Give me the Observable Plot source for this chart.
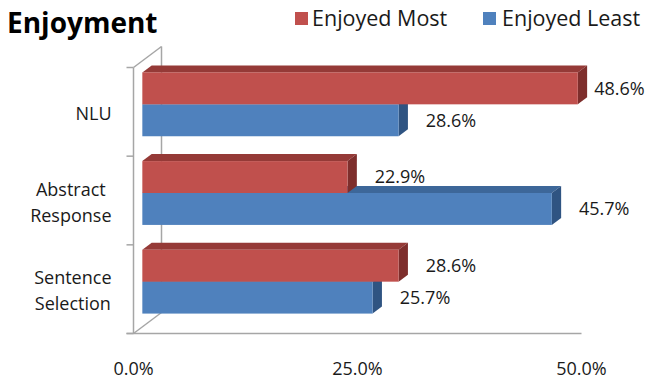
<!DOCTYPE html>
<html>
<head>
<meta charset="utf-8">
<script src="https://cdn.jsdelivr.net/npm/d3@7"></script>
<script src="https://cdn.jsdelivr.net/npm/@observablehq/plot@0.6"></script>
<style>
  html, body { margin: 0; padding: 0; background: #fff; }
  body { font-family: "Open Sans", sans-serif; color: #1a1a1a; }
  #header { position: relative; width: 645px; height: 44px; }
  #title { position: absolute; left: 7px; top: 2px; font-size: 28px; font-weight: bold; color: #000; line-height: 40px; white-space: nowrap; }
  .sw { position: absolute; top: 12px; width: 13px; height: 13px; }
  .lt { position: absolute; top: 3px; font-size: 21.5px; line-height: 30px; color: #1a1a1a; white-space: nowrap; }
</style>
</head>
<body>
<div id="header">
  <div id="title">Enjoyment</div>
</div>
<div id="chart"></div>
<script>
// ---- data ----
const categories = ["NLU", "Abstract Response", "Sentence Selection"];
const categoryLines = [["NLU"], ["Abstract", "Response"], ["Sentence", "Selection"]];
const seriesNames = ["Enjoyed Most", "Enjoyed Least"];
const enjoyedMost = [48.6, 22.9, 28.6];
const enjoyedLeast = [28.6, 45.7, 25.7];
const xTicks = [0, 25, 50];

// ---- styles ----
const seriesColors = {
  "Enjoyed Most":  { front: "#C0504D", top: "#953A37", side: "#7E2E2C" },
  "Enjoyed Least": { front: "#4F81BD", top: "#3D6799", side: "#2F5482" }
};
const axisColor = "#a6a6a6";
const textColor = "#1a1a1a";
const font = "Open Sans";

// ---- legend (HTML, above the SVG) ----
const header = document.getElementById("header");
const legendPos = [{sw: 295, tx: 312}, {sw: 483, tx: 502}];
seriesNames.forEach((s, k) => {
  const sw = document.createElement("div");
  sw.className = "sw"; sw.style.left = legendPos[k].sw + "px"; sw.style.background = seriesColors[s].front;
  const t = document.createElement("div");
  t.className = "lt"; t.style.left = legendPos[k].tx + "px"; t.textContent = s;
  header.appendChild(sw); header.appendChild(t);
});

// ---- geometry ----
const W = 645, H = 335;
const marginLeft = 133, marginRight = 64, marginTop = 23, marginBottom = 46;
const xDomain = [0, 50];
const n = categories.length;
const pxPerX = (W - marginLeft - marginRight) / (xDomain[1] - xDomain[0]);
const pxPerY = (H - marginTop - marginBottom) / n;
const DX = 28 / pxPerX, DY = 21 / pxPerY;   // full wall depth in data units
const fFront = 1 / 3, fBack = 2 / 3;         // bar depth span
const gap = 0.14, barH = 0.36;
const tickLen = 7 / pxPerX;
const labelMax = 47.4;

const bars = [];
categories.forEach((c, i) => {
  // lower series first so upper bar's front face covers its top face
  [[1, enjoyedLeast[i]], [0, enjoyedMost[i]]].forEach(([s, v]) => {
    const y1 = i + gap + s * barH, y2 = y1 + barH;
    bars.push({ category: c, series: seriesNames[s], value: v, y1, y2, id: c + "|" + s });
  });
});

const topPts = bars.flatMap(b => [fFront, fBack].map(f => ({
  id: b.id, series: b.series, y: b.y1 - f * DY, x1: f * DX, x2: b.value + f * DX
})));
const sidePts = bars.flatMap(b => [fFront, fBack].map(f => ({
  id: b.id, series: b.series, x: b.value + f * DX, y1: b.y1 - f * DY, y2: b.y2 - f * DY
})));

const backSegs = [
  { x1: DX, y1: -DY, x2: DX, y2: n - DY },      // back wall edge
  { x1: 0, y1: 0, x2: DX, y2: -DY },            // top diagonal
  { x1: 0, y1: n, x2: DX, y2: n - DY }          // bottom diagonal
];
const frontSegs = [
  { x1: 0, y1: 0, x2: 0, y2: n },               // front vertical axis
  { x1: -tickLen, y1: n, x2: xDomain[1], y2: n }, // floor front edge
  ...d3.range(n + 1).map(k => ({ x1: -tickLen, y1: k, x2: 0, y2: k }))
];

// measure text for centered multi-line category labels
const ctx = document.createElement("canvas").getContext("2d");
ctx.font = `18px "${font}"`;
const catMarks = categoryLines.map((lines, i) => {
  const maxW = d3.max(lines, l => ctx.measureText(l).width);
  return Plot.text([lines.join("\n")], {
    x: () => 0, y: () => i + 0.5, text: d => d,
    dx: -22 - maxW / 2, textAnchor: "middle", lineHeight: 26 / 18,
    fontSize: 18, fill: textColor
  });
});

const chart = Plot.plot({
  width: W, height: H,
  marginLeft, marginRight, marginTop, marginBottom,
  x: { domain: xDomain, axis: null },
  y: { domain: [0, n], reverse: true, axis: null },
  style: { fontFamily: font, background: "#fff", overflow: "visible" },
  marks: [
    Plot.link(backSegs, { x1: "x1", y1: "y1", x2: "x2", y2: "y2", stroke: axisColor, strokeWidth: 1.5 }),
    Plot.areaX(topPts, { y: "y", x1: "x1", x2: "x2", z: "id", fill: d => seriesColors[d.series].top }),
    Plot.areaY(sidePts, { x: "x", y1: "y1", y2: "y2", z: "id", fill: d => seriesColors[d.series].side }),
    Plot.rect(bars, {
      x1: () => fFront * DX, x2: d => d.value + fFront * DX,
      y1: d => d.y1 - fFront * DY, y2: d => d.y2 - fFront * DY,
      fill: d => seriesColors[d.series].front
    }),
    Plot.link(frontSegs, { x1: "x1", y1: "y1", x2: "x2", y2: "y2", stroke: axisColor, strokeWidth: 1.5 }),
    Plot.text(bars, {
      x: d => Math.min(d.value, labelMax),
      y: d => (d.y1 + d.y2) / 2 - fFront * DY,
      text: d => d.value.toFixed(1) + "%",
      textAnchor: "start", dx: 36, fontSize: 18, fill: textColor
    }),
    Plot.text(xTicks, {
      x: d => d, y: () => n, dy: 36,
      text: d => d.toFixed(1) + "%", fontSize: 18, fill: textColor
    }),
    ...catMarks
  ],
  color: { type: "identity" }
});
document.getElementById("chart").appendChild(chart);
</script>
</body>
</html>
